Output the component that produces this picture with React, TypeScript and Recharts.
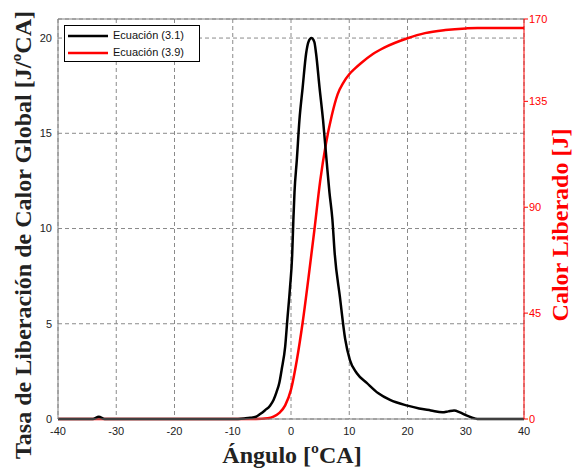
import React from 'react';
import { ComposedChart, Line, XAxis, YAxis, CartesianGrid, Legend, ReferenceLine } from 'recharts';

// Ecuación (3.1): tasa de liberación de calor [J/ºCA]
const rateAngle = [-40, -34, -33, -32, -10, -8, -7, -6, -5.3, -4.5, -3.6, -3, -2.5, -2, -1.6, -1, -0.63, -0.17, 0.2, 0.4, 0.6, 1.0, 1.45, 2.0, 2.6, 3.0, 3.5, 4.0, 4.3, 4.9, 5.5, 6.1, 6.6, 7.1, 7.5, 8.4, 9.3, 10.1, 11.3, 13, 15, 17, 20, 22, 24, 26, 27, 28, 29, 30, 31, 32, 40];
const rateValue = [0, 0, 0.12, 0, 0, 0.03, 0.06, 0.12, 0.26, 0.45, 0.7, 1.0, 1.4, 1.9, 2.6, 3.8, 5.2, 6.9, 8.6, 10.4, 11.9, 13.6, 15.7, 17.4, 19.2, 19.8, 20, 19.8, 19.2, 17.4, 15.7, 13.6, 11.9, 10.5, 8.7, 6.4, 4.2, 3.1, 2.4, 1.9, 1.35, 1.0, 0.7, 0.55, 0.45, 0.35, 0.4, 0.45, 0.35, 0.2, 0.08, 0, 0];

// Ecuación (3.9): calor liberado [J]
const heatAngle = [-40, -6, -4, -3, -2, -1, 0, 1, 2, 3, 4, 5, 6, 7, 8, 9, 10, 11, 12, 14, 16, 20, 23, 26.5, 30, 32, 40];
const heatValue = [0, 0, 0.3, 1, 2.6, 5.8, 12.5, 25, 41, 60, 80, 101, 117, 129, 138, 143, 146.5, 149, 151.2, 155, 157.8, 161.8, 164, 165.3, 166, 166.2, 166.2];

const xTicks = [-40, -30, -20, -10, 0, 10, 20, 30, 40];
const leftTicks = [0, 5, 10, 15, 20];
const rightTicks = [0, 45, 90, 135, 170];

const rateData = rateAngle.map((a, i) => ({ angle: a, rate: rateValue[i] }));
const heatData = heatAngle.map((a, i) => ({ angle: a, heat: heatValue[i] }));

const tickFont = { fontFamily: '"Liberation Sans", Arial, sans-serif', fontSize: 11 };
const labelFont = { fontFamily: '"Liberation Serif", "Times New Roman", serif', fontSize: 24, fontWeight: 700 };

const LegendBox = () => (
  <div
    style={{
      width: 136,
      height: 37,
      boxSizing: 'border-box',
      border: '1px solid #000',
      background: '#fff',
      padding: '1px 0 0 3px',
      ...tickFont,
      color: '#111',
      lineHeight: '17px',
    }}
  >
    {[
      { name: 'Ecuación (3.1)', color: '#000' },
      { name: 'Ecuación (3.9)', color: '#ff0000' },
    ].map((it) => (
      <div key={it.name} style={{ display: 'flex', alignItems: 'center', height: 17 }}>
        <svg width={40} height={4} style={{ marginRight: 5 }}>
          <line x1={0} y1={2} x2={40} y2={2} stroke={it.color} strokeWidth={2.5} />
        </svg>
        <span>{it.name}</span>
      </div>
    ))}
  </div>
);

export default function App() {
  return (
    <div style={{ position: 'absolute', left: 0, top: 0, background: '#fff' }}>
      <ComposedChart width={574} height={472} margin={{ top: 19, right: 0, left: 0, bottom: 0 }}>
        <CartesianGrid yAxisId="l" stroke="#8a8a8a" strokeDasharray="4 3" />
        <XAxis
          dataKey="angle"
          type="number"
          domain={[-40, 40]}
          ticks={xTicks}
          height={53}
          stroke="#808080"
          tickLine={false}
          tickSize={0}
          tickMargin={8}
          tick={{ ...tickFont, fill: '#222' }}
          label={{
            content: () => (
              <text x={292} y={463} textAnchor="middle" fill="#222" style={labelFont}>
                Ángulo [ºCA]
              </text>
            ),
          }}
        />
        <YAxis
          yAxisId="l"
          type="number"
          domain={[0, 21]}
          ticks={leftTicks}
          width={58}
          stroke="#808080"
          tickLine={false}
          tickSize={0}
          tickMargin={6}
          tick={{ ...tickFont, fill: '#222' }}
          label={{
            content: () => (
              <text
                x={31}
                y={235}
                textAnchor="middle"
                transform="rotate(-90 31 235)"
                fill="#222"
                style={labelFont}
              >
                Tasa de Liberación de Calor Global [J/ºCA]
              </text>
            ),
          }}
        />
        <YAxis
          yAxisId="r"
          orientation="right"
          type="number"
          domain={[0, 170]}
          ticks={rightTicks}
          width={50}
          stroke="#ff0000"
          tickSize={4}
          tickMargin={1}
          tick={{ ...tickFont, fill: '#ff0000' }}
          label={{
            content: () => (
              <text
                x={560}
                y={225}
                textAnchor="middle"
                transform="rotate(-90 560 225)"
                dominantBaseline="central"
                fill="#ff0000"
                style={labelFont}
              >
                Calor Liberado [J]
              </text>
            ),
          }}
        />
        <ReferenceLine yAxisId="l" y={21} stroke="#808080" />
        <Legend
          layout="horizontal"
          verticalAlign="middle"
          align="center"
          content={<LegendBox />}
          wrapperStyle={{ top: 25, left: 64, width: 'auto', height: 'auto' }}
        />
        <Line
          yAxisId="r"
          data={heatData}
          dataKey="heat"
          type="monotone"
          stroke="#ff0000"
          strokeWidth={2.5}
          dot={false}
          isAnimationActive={false}
          name="Ecuación (3.9)"
        />
        <Line
          yAxisId="l"
          data={rateData}
          dataKey="rate"
          type="monotone"
          stroke="#000"
          strokeWidth={2.5}
          dot={false}
          isAnimationActive={false}
          name="Ecuación (3.1)"
        />
      </ComposedChart>
    </div>
  );
}
